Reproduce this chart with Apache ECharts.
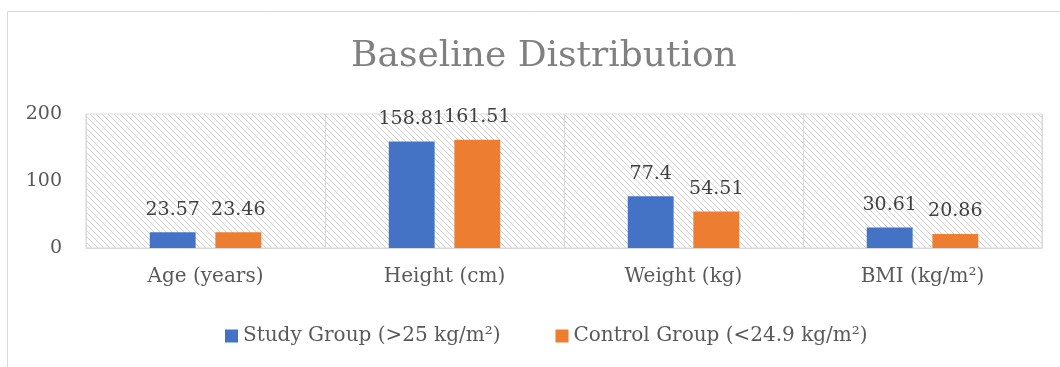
<!DOCTYPE html>
<html><head><meta charset="utf-8">
<script src="https://cdn.jsdelivr.net/npm/echarts@6/dist/echarts.min.js"></script>
<style>html,body{margin:0;padding:0;background:#fff}#c{width:1060px;height:367px}</style>
</head><body><div id="c"></div>
<script>
const categories = ['Age (years)', 'Height (cm)', 'Weight (kg)', 'BMI (kg/m²)'];
const studyGroup = [23.57, 158.81, 77.4, 30.61];
const controlGroup = [23.46, 161.51, 54.51, 20.86];
const seriesNames = ['Study Group (>25 kg/m²)', 'Control Group (<24.9 kg/m²)'];
const yTicks = [0, 100, 200];

const s = 6;
const tile = document.createElement('canvas');
tile.width = s; tile.height = s;
const g = tile.getContext('2d');
g.fillStyle = '#ffffff'; g.fillRect(0,0,s,s);
g.strokeStyle = '#d2d2d2'; g.lineWidth = 1;
for (const k of [-s, 0, s]) { g.beginPath(); g.moveTo(k, 0); g.lineTo(k + s, s); g.stroke(); }

const serif = '"DejaVu Serif", serif';
const chart = echarts.init(document.getElementById('c'));
chart.setOption({
  animation: false,
  backgroundColor: '#fff',
  title: { text: 'Baseline Distribution', left: 346, top: 34,
    textStyle: { fontFamily: serif, fontSize: 36, fontWeight: 'normal', color: '#808080' } },
  graphic: [
    { type: 'polyline', shape: { points: [[7.5, 367], [7.5, 11.5], [1060, 11.5]] }, style: { stroke: '#d9d9d9', lineWidth: 1, fill: null } }
  ],
  legend: { top: 321, left: 220, itemWidth: 13, itemHeight: 13, itemGap: 55,
    icon: 'rect', textStyle: { fontFamily: serif, fontSize: 20, color: '#595959' },
    data: seriesNames },
  grid: { left: 86, right: 18, top: 114, bottom: 119, show: true,
    backgroundColor: { image: tile, repeat: 'repeat' }, borderColor: '#d9d9d9', borderWidth: 1 },
  xAxis: { type: 'category', data: categories,
    axisLine: { lineStyle: { color: '#d9d9d9' } }, axisTick: { show: false },
    splitLine: { show: true, lineStyle: { color: '#d9d9d9' } },
    axisLabel: { fontFamily: serif, fontSize: 20, color: '#595959', margin: 19 } },
  yAxis: { type: 'value', min: yTicks[0], max: yTicks[yTicks.length-1], interval: 100,
    axisLine: { show: false }, axisTick: { show: false }, splitLine: { show: false },
    axisLabel: { fontFamily: serif, fontSize: 19, color: '#595959', margin: 24 } },
  series: [
    { name: seriesNames[0], type: 'bar', data: studyGroup, barWidth: '19.2%', barGap: '43%',
      itemStyle: { color: '#4472C4' },
      label: { show: true, position: 'top', distance: 13, fontFamily: serif, fontSize: 19, color: '#404040' } },
    { name: seriesNames[1], type: 'bar', data: controlGroup, barWidth: '19.2%', barGap: '43%',
      itemStyle: { color: '#ED7D31' },
      label: { show: true, position: 'top', distance: 13, fontFamily: serif, fontSize: 19, color: '#404040' } }
  ]
});
</script></body></html>
